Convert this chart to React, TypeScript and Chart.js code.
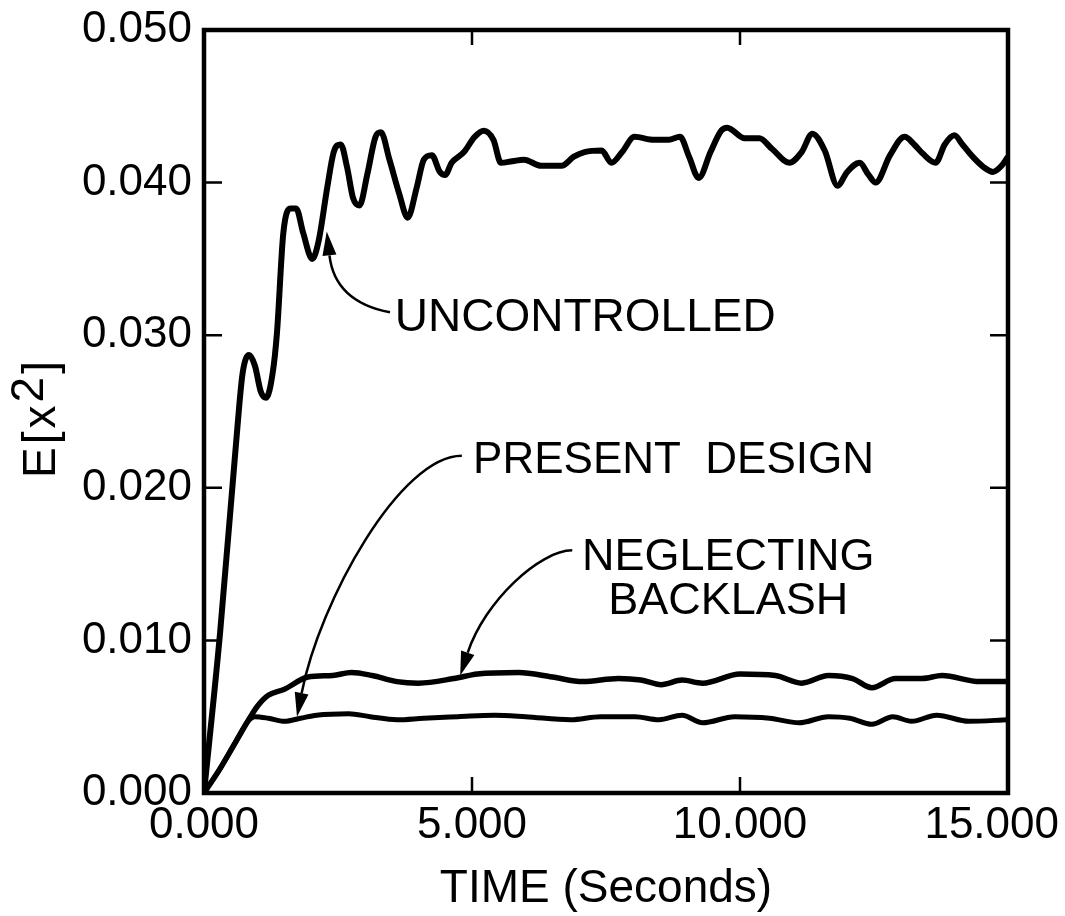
import React, { useEffect, useRef } from "react";
import { Chart, registerables } from "chart.js";

Chart.register(...registerables);

// ---- data (time in seconds, E[x^2]) ----
const uncontrolledT = [
  0.0, 0.3, 0.6, 0.72, 0.84, 0.95, 1.06, 1.16, 1.28, 1.36, 1.48, 1.62, 1.72, 1.85, 2.02, 2.14,
  2.3, 2.42, 2.55, 2.67, 2.78, 2.9, 3.05, 3.2, 3.3, 3.46, 3.64, 3.8, 3.97, 4.1, 4.25, 4.4, 4.5,
  4.62, 4.85, 5.05, 5.22, 5.4, 5.54, 5.75, 5.97, 6.29, 6.67, 6.9, 7.1, 7.42, 7.6, 7.8, 8.03,
  8.4, 8.67, 8.88, 9.05, 9.23, 9.45, 9.65, 9.76, 10.09, 10.36, 10.6, 10.92, 11.15, 11.35,
  11.58, 11.82, 12.0, 12.23, 12.4, 12.53, 12.8, 13.07, 13.25, 13.41, 13.65, 13.82, 14.0,
  14.15, 14.34, 14.55, 14.72, 14.88, 15.0,
];
const uncontrolledV = [
  0.0, 0.0105, 0.023, 0.0275, 0.0287, 0.028, 0.0263, 0.0259, 0.0275, 0.0301, 0.0367, 0.0383,
  0.0383, 0.0367, 0.035, 0.0362, 0.0397, 0.042, 0.0425, 0.041, 0.039, 0.0385, 0.0406, 0.043,
  0.0433, 0.0415, 0.0393, 0.0377, 0.0397, 0.0415, 0.0418, 0.0407, 0.0405, 0.0413, 0.042, 0.043,
  0.0434, 0.0428, 0.0413, 0.0414, 0.0415, 0.0411, 0.0411, 0.0417, 0.042, 0.0421, 0.0413, 0.042,
  0.043, 0.0428, 0.0428, 0.043, 0.0417, 0.0403, 0.042, 0.0434, 0.0436, 0.0429, 0.0429, 0.0422,
  0.0413, 0.042, 0.0432, 0.0421, 0.0398, 0.0407, 0.0413, 0.0405, 0.04, 0.0418, 0.043, 0.0425,
  0.0419, 0.0413, 0.0425, 0.0431, 0.0425, 0.0417, 0.041, 0.0407, 0.0411, 0.0417,
];

const presentT = [
  0.0, 0.3, 0.6, 0.82, 0.95, 1.2, 1.5, 1.8, 2.1, 2.7, 3.1, 3.6, 4.1, 4.74, 5.42, 6.0, 6.84,
  7.4, 8.04, 8.49, 8.92, 9.3, 9.9, 10.55, 11.1, 11.65, 12.05, 12.46, 12.85, 13.2, 13.67,
  14.27, 15.0,
];
const presentV = [
  0.0, 0.0016, 0.0034, 0.0047, 0.005, 0.0049, 0.0047, 0.0049, 0.0051, 0.0052, 0.005, 0.0048,
  0.0049, 0.005, 0.0051, 0.005, 0.0048, 0.005, 0.005, 0.0048, 0.0051, 0.0046, 0.005, 0.0049,
  0.0046, 0.005, 0.0049, 0.0045, 0.005, 0.0047, 0.0051, 0.0047, 0.0048,
];

const neglectT = [
  0.0, 0.3, 0.6, 0.85, 1.0, 1.2, 1.5, 1.94, 2.4, 2.75, 3.14, 3.6, 4.0, 4.66, 5.1, 5.87, 6.5,
  7.07, 7.73, 8.15, 8.53, 8.92, 9.3, 10.0, 10.66, 11.15, 11.65, 12.1, 12.46, 12.9, 13.4,
  13.77, 14.47, 15.0,
];
const neglectV = [
  0.0, 0.0016, 0.0034, 0.0049, 0.0057, 0.0064, 0.0068, 0.0076, 0.0077, 0.0079, 0.0077, 0.0073,
  0.0072, 0.0075, 0.0078, 0.0079, 0.0076, 0.0073, 0.0075, 0.0074, 0.0071, 0.0074, 0.0072,
  0.0078, 0.0077, 0.0072, 0.0077, 0.0075, 0.0069, 0.0075, 0.0075, 0.0077, 0.0073, 0.0073,
];

const xTickValues = [0, 5, 10, 15];
const xTickLabels = ["0.000", "5.000", "10.000", "15.000"];
const yTickValues = [0, 0.01, 0.02, 0.03, 0.04, 0.05];
const xTitle = "TIME (Seconds)";
const yTitleParts = ["E", "[", "x", "2", "]"];

// annotation labels (anchors in data units)
const labelUncontrolled = { text: "UNCONTROLLED", x: 3.56, y: 0.0303 };
const labelPresent = { text: "PRESENT  DESIGN", x: 5.02, y: 0.021 };
const labelNeglect1 = { text: "NEGLECTING", x: 9.78, y: 0.0146 };
const labelNeglect2 = { text: "BACKLASH", x: 9.78, y: 0.0117 };

// arrows: start, control points, tip (data units)
const arrowUncontrolled = [[3.47, 0.0315], [2.44, 0.0322], [2.29, 0.0368]];
const arrowPresent = [[4.81, 0.0221], [3.66, 0.0221], [2.16, 0.0126], [1.735, 0.005]];
const arrowNeglect = [[6.87, 0.0159], [6.27, 0.0159], [5.24, 0.0126], [4.78, 0.0077]];

const FONT = "'Liberation Sans', Arial, Helvetica, sans-serif";

function toPoints(t: number[], v: number[]) {
  return t.map((tt, i) => ({ x: tt, y: v[i] }));
}

const overlayPlugin = {
  id: "overlay",
  afterDatasetsDraw(chart: any) {
    const { ctx, chartArea: a, scales } = chart;
    const xs = scales.x;
    const ys = scales.y;
    const px = (v: number) => xs.getPixelForValue(v);
    const py = (v: number) => ys.getPixelForValue(v);
    ctx.save();
    ctx.strokeStyle = "#000";
    ctx.fillStyle = "#000";
    ctx.lineCap = "butt";

    // frame
    ctx.lineWidth = 4.5;
    ctx.strokeRect(a.left, a.top, a.right - a.left, a.bottom - a.top);

    // inside tick marks
    ctx.lineWidth = 2.5;
    ctx.beginPath();
    for (const v of yTickValues) {
      if (v <= 0 || v >= 0.05) continue;
      const y = py(v);
      ctx.moveTo(a.left, y);
      ctx.lineTo(a.left + 18, y);
      ctx.moveTo(a.right - 18, y);
      ctx.lineTo(a.right, y);
    }
    for (const v of xTickValues) {
      if (v <= 0 || v >= 15) continue;
      const x = px(v);
      ctx.moveTo(x, a.bottom);
      ctx.lineTo(x, a.bottom - 16);
      ctx.moveTo(x, a.top);
      ctx.lineTo(x, a.top + 15);
    }
    ctx.stroke();

    // x tick labels
    ctx.font = `44px ${FONT}`;
    ctx.textAlign = "center";
    ctx.textBaseline = "alphabetic";
    xTickValues.forEach((v, i) => {
      const label = xTickLabels[i];
      const w = ctx.measureText(label).width;
      let x = px(v);
      if (x + w / 2 > chart.width - 6) x = chart.width - 6 - w / 2;
      ctx.fillText(label, x, a.bottom + 45);
    });

    // x title
    ctx.font = `46px ${FONT}`;
    ctx.fillText(xTitle, (a.left + a.right) / 2, a.bottom + 109);

    // y title with superscript
    ctx.font = `46px ${FONT}`;
    const gap = 3;
    const widths = yTitleParts.map((p) => ctx.measureText(p).width);
    const total = widths.reduce((s, w) => s + w, 0) + gap * (yTitleParts.length - 1);
    ctx.save();
    ctx.translate(55, (a.top + a.bottom) / 2 + 8 + total / 2);
    ctx.rotate(-Math.PI / 2);
    ctx.textAlign = "left";
    let cx = 0;
    yTitleParts.forEach((p, i) => {
      const raise = p === "2" ? -12 : 0;
      ctx.fillText(p, cx, raise);
      cx += widths[i] + gap;
    });
    ctx.restore();

    // annotation texts
    ctx.textAlign = "left";
    ctx.font = `46px ${FONT}`;
    ctx.fillText(labelUncontrolled.text, px(labelUncontrolled.x), py(labelUncontrolled.y));
    ctx.font = `44px ${FONT}`;
    ctx.fillText(labelPresent.text, px(labelPresent.x), py(labelPresent.y));
    ctx.textAlign = "center";
    ctx.font = `45px ${FONT}`;
    ctx.fillText(labelNeglect1.text, px(labelNeglect1.x), py(labelNeglect1.y));
    ctx.fillText(labelNeglect2.text, px(labelNeglect2.x), py(labelNeglect2.y));

    // arrows
    const drawArrow = (pts: number[][]) => {
      const P = pts.map((p) => [px(p[0]), py(p[1])]);
      const tip = P[P.length - 1];
      const prev = P[P.length - 2];
      const ang = Math.atan2(tip[1] - prev[1], tip[0] - prev[0]);
      const headLen = 24;
      const headW = 7;
      const bx = tip[0] - Math.cos(ang) * headLen;
      const by = tip[1] - Math.sin(ang) * headLen;
      ctx.lineWidth = 2.5;
      ctx.beginPath();
      ctx.moveTo(P[0][0], P[0][1]);
      if (P.length === 3) {
        ctx.quadraticCurveTo(P[1][0], P[1][1], bx, by);
      } else {
        ctx.bezierCurveTo(P[1][0], P[1][1], P[2][0], P[2][1], bx, by);
      }
      ctx.stroke();
      ctx.beginPath();
      ctx.moveTo(tip[0], tip[1]);
      ctx.lineTo(bx + Math.sin(ang) * headW, by - Math.cos(ang) * headW);
      ctx.lineTo(bx - Math.sin(ang) * headW, by + Math.cos(ang) * headW);
      ctx.closePath();
      ctx.fill();
    };
    drawArrow(arrowUncontrolled);
    drawArrow(arrowPresent);
    drawArrow(arrowNeglect);

    ctx.restore();
  },
};

export default function App() {
  const canvasRef = useRef<HTMLCanvasElement | null>(null);

  useEffect(() => {
    if (!canvasRef.current) return;
    const lineStyle = {
      borderColor: "#000",
      borderWidth: 5.5,
      pointRadius: 0,
      fill: false,
      cubicInterpolationMode: "monotone" as const,
      showLine: true,
    };
    const chart = new Chart(canvasRef.current, {
      type: "line",
      data: {
        datasets: [
          { label: "UNCONTROLLED", data: toPoints(uncontrolledT, uncontrolledV), ...lineStyle, borderWidth: 6 },
          { label: "NEGLECTING BACKLASH", data: toPoints(neglectT, neglectV), ...lineStyle },
          { label: "PRESENT DESIGN", data: toPoints(presentT, presentV), ...lineStyle, borderWidth: 5 },
        ],
      },
      options: {
        animation: false,
        responsive: true,
        maintainAspectRatio: false,
        layout: { padding: { left: 82, right: 57, top: 30, bottom: 123 } },
        plugins: { legend: { display: false }, tooltip: { enabled: false } },
        scales: {
          x: {
            type: "linear",
            min: 0,
            max: 15,
            display: false,
          },
          y: {
            type: "linear",
            min: 0,
            max: 0.05,
            grid: { display: false, drawTicks: false },
            border: { display: false },
            ticks: {
              stepSize: 0.01,
              padding: 12,
              color: "#000",
              font: { family: FONT, size: 44, lineHeight: 0.8 },
              callback: (v: any) => Number(v).toFixed(3),
            },
            afterFit: (scale: any) => {
              scale.width = 122;
            },
          },
        },
      },
      plugins: [overlayPlugin],
    });
    return () => chart.destroy();
  }, []);

  return (
    <div
      style={{
        position: "fixed",
        left: 0,
        top: 0,
        width: 1065,
        height: 916,
        background: "#fff",
      }}
    >
      <canvas ref={canvasRef} />
    </div>
  );
}
